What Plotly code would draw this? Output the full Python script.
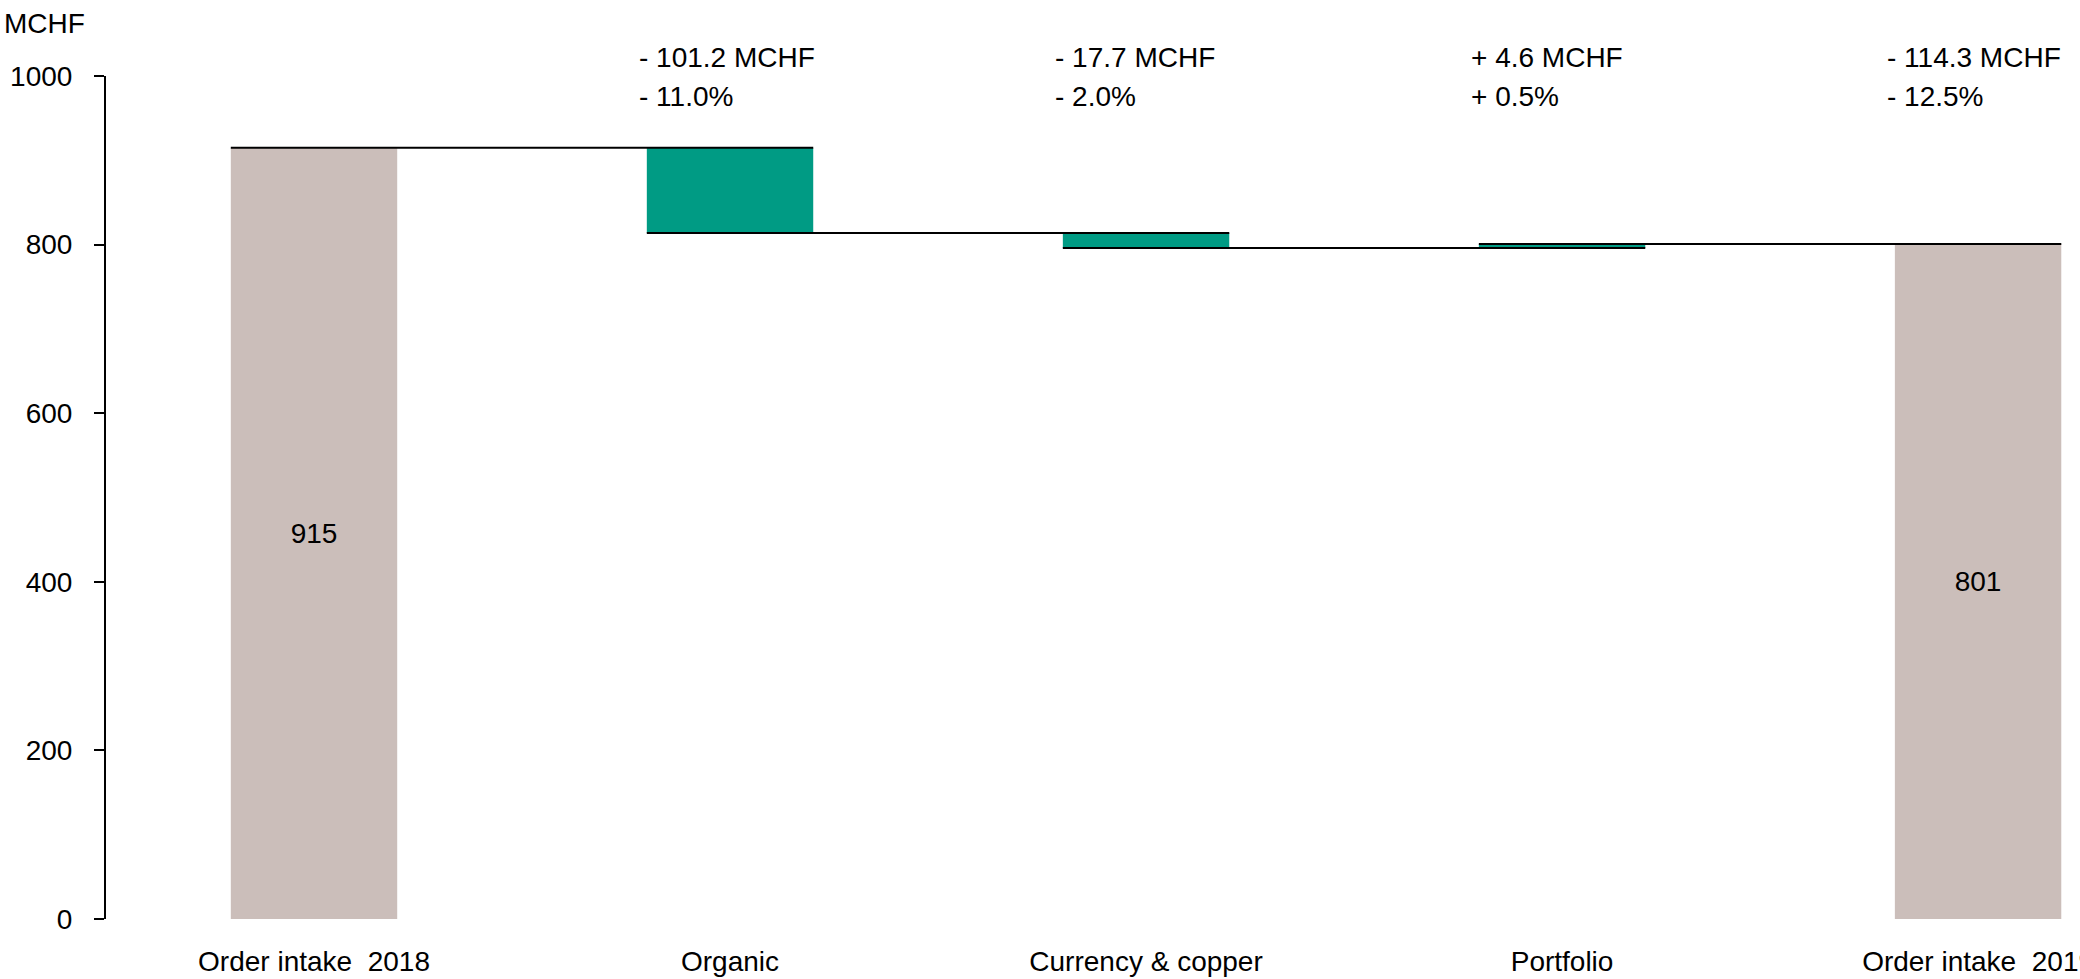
import plotly.graph_objects as go

categories = ["Order intake\u00a0 2018", "Organic", "Currency & copper", "Portfolio", "Order intake\u00a0 2019"]
start_value = 915.0
end_value = 801.0
deltas = [-101.2, -17.7, 4.6]
delta_labels_abs = ["- 101.2 MCHF", "- 17.7 MCHF", "+ 4.6 MCHF", "- 114.3 MCHF"]
delta_labels_pct = ["- 11.0%", "- 2.0%", "+ 0.5%", "- 12.5%"]
y_ticks = [0, 200, 400, 600, 800, 1000]
unit_label = "MCHF"

BEIGE = "#CBBEBA"
GREEN = "#009B84"
FONT = "Liberation Sans, Arial, sans-serif"
W = 0.4

n = len(categories)
xs = list(range(n))

# cumulative levels
levels = [start_value]
for d in deltas:
    levels.append(levels[-1] + d)

fig = go.Figure()

# total bars
fig.add_trace(go.Bar(
    x=[0, n - 1], y=[start_value, end_value], width=W,
    marker=dict(color=BEIGE, line=dict(width=0)),
    text=[f"{start_value:.0f}", f"{end_value:.0f}"],
    textposition="inside", insidetextanchor="middle",
    textfont=dict(family=FONT, size=28, color="black"),
    showlegend=False, hoverinfo="skip",
))

# delta bars
bases = []
heights = []
for i, d in enumerate(deltas):
    lo = min(levels[i], levels[i + 1])
    bases.append(lo)
    heights.append(abs(d))
fig.add_trace(go.Bar(
    x=xs[1:1 + len(deltas)], y=heights, base=bases, width=W,
    marker=dict(color=GREEN, line=dict(width=0)),
    showlegend=False, hoverinfo="skip",
))

# connector lines: from left edge of bar i to right edge of bar i+1
lx, ly = [], []
for i in range(n - 1):
    lvl = levels[i]
    lx += [i - W / 2, i + 1 + W / 2, None]
    ly += [lvl, lvl, None]
fig.add_trace(go.Scatter(
    x=lx, y=ly, mode="lines", line=dict(color="black", width=2),
    showlegend=False, hoverinfo="skip",
))

annotations = []
for k in range(len(delta_labels_abs)):
    xi = k + 1
    annotations.append(dict(
        x=xi - W / 2, y=1000, xref="x", yref="y", xanchor="left", yanchor="middle",
        xshift=-10, yshift=19, text=delta_labels_abs[k], showarrow=False,
        font=dict(family=FONT, size=28, color="black"),
    ))
    annotations.append(dict(
        x=xi - W / 2, y=1000, xref="x", yref="y", xanchor="left", yanchor="middle",
        xshift=-10, yshift=-20, text=delta_labels_pct[k], showarrow=False,
        font=dict(family=FONT, size=28, color="black"),
    ))
annotations.append(dict(
    x=0, y=1, xref="paper", yref="paper", xanchor="left", yanchor="middle",
    xshift=-104, yshift=53, text=unit_label, showarrow=False,
    font=dict(family=FONT, size=28, color="black"),
))

fig.update_layout(
    width=2080, height=979,
    margin=dict(l=106, r=0, t=76, b=60, autoexpand=False),
    paper_bgcolor="white", plot_bgcolor="white",
    barmode="overlay",
    font=dict(family=FONT, size=28, color="black"),
    annotations=annotations,
    xaxis=dict(
        range=[-0.5, 4.245], tickmode="array", tickvals=xs, ticktext=categories,
        showline=False, showgrid=False, zeroline=False, ticks="",
        ticklabelstandoff=23, ticklabeloverflow="allow", automargin=False,
        tickfont=dict(family=FONT, size=28, color="black"),
    ),
    yaxis=dict(
        range=[0, 1000], tickmode="array", tickvals=y_ticks,
        showline=True, linecolor="black", linewidth=2,
        ticks="outside", ticklen=10, tickwidth=2, tickcolor="black",
        showgrid=False, zeroline=False, ticklabelstandoff=16, automargin=False,
        tickfont=dict(family=FONT, size=28, color="black"),
    ),
)

fig.write_html("out.html")
